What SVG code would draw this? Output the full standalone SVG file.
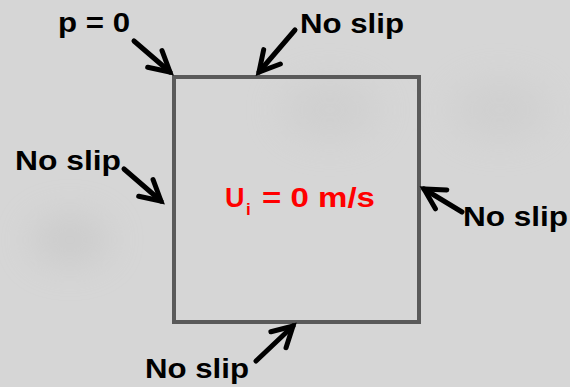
<svg xmlns="http://www.w3.org/2000/svg" width="570" height="387" viewBox="0 0 570 387">
<defs>
<marker id="head" markerUnits="userSpaceOnUse" orient="auto" markerWidth="40" markerHeight="40" refX="0" refY="0" viewBox="-30 -20 40 40" overflow="visible">
<path d="M-20,-11 L0,0 L-20,11" fill="none" stroke="#000" stroke-width="5" stroke-linejoin="miter" stroke-linecap="round"/>
</marker>
<filter id="blur" x="-50%" y="-50%" width="200%" height="200%"><feGaussianBlur stdDeviation="18"/></filter>
</defs>
<style>
.lbl{font-family:"Liberation Sans",Arial,sans-serif;font-weight:bold;font-size:28px;fill:#000}
.arr{fill:none;stroke:#000;stroke-width:5;stroke-linecap:round;marker-end:url(#head)}
.box{fill:none;stroke:#5a5a5a;stroke-width:4}
.red{font-family:"Liberation Sans",Arial,sans-serif;font-weight:bold;fill:#ff0000}
</style>
<rect x="0" y="0" width="570" height="387" fill="#d6d6d6"/>
<g opacity="0.35" filter="url(#blur)">
<ellipse cx="70" cy="240" rx="40" ry="25" fill="#b8b8b8"/>
<ellipse cx="330" cy="110" rx="50" ry="30" fill="#c4c4c4"/>
<ellipse cx="500" cy="110" rx="50" ry="30" fill="#c4c4c4"/>
</g>
<g id="domain">
<rect class="box" x="174" y="77" width="245" height="245"/>
</g>
<g id="interior">
<text class="red" x="225" y="207" font-size="27">U</text>
<text class="red" x="246" y="215" font-size="17">i</text>
<text class="red" x="262" y="207" font-size="27" textLength="113" lengthAdjust="spacingAndGlyphs">= 0 m/s</text>
</g>
<g id="label-p0">
<text class="lbl" x="58" y="32" font-size="24" textLength="72" lengthAdjust="spacingAndGlyphs">p = 0</text>
</g>
<g id="label-top">
<text class="lbl" x="300" y="33" textLength="104" lengthAdjust="spacingAndGlyphs">No slip</text>
</g>
<g id="label-left">
<text class="lbl" x="15" y="170" textLength="106" lengthAdjust="spacingAndGlyphs">No slip</text>
</g>
<g id="label-right">
<text class="lbl" x="463" y="226" textLength="105" lengthAdjust="spacingAndGlyphs">No slip</text>
</g>
<g id="label-bottom">
<text class="lbl" x="145" y="378" textLength="104" lengthAdjust="spacingAndGlyphs">No slip</text>
</g>
<g id="connectors">
<line class="arr" x1="134" y1="41" x2="170" y2="72"/>
<line class="arr" x1="295" y1="30" x2="259" y2="72"/>
<line class="arr" x1="124" y1="169" x2="161" y2="201"/>
<line class="arr" x1="462" y1="212" x2="424" y2="189"/>
<line class="arr" x1="256" y1="361" x2="293" y2="326"/>
</g>
</svg>
